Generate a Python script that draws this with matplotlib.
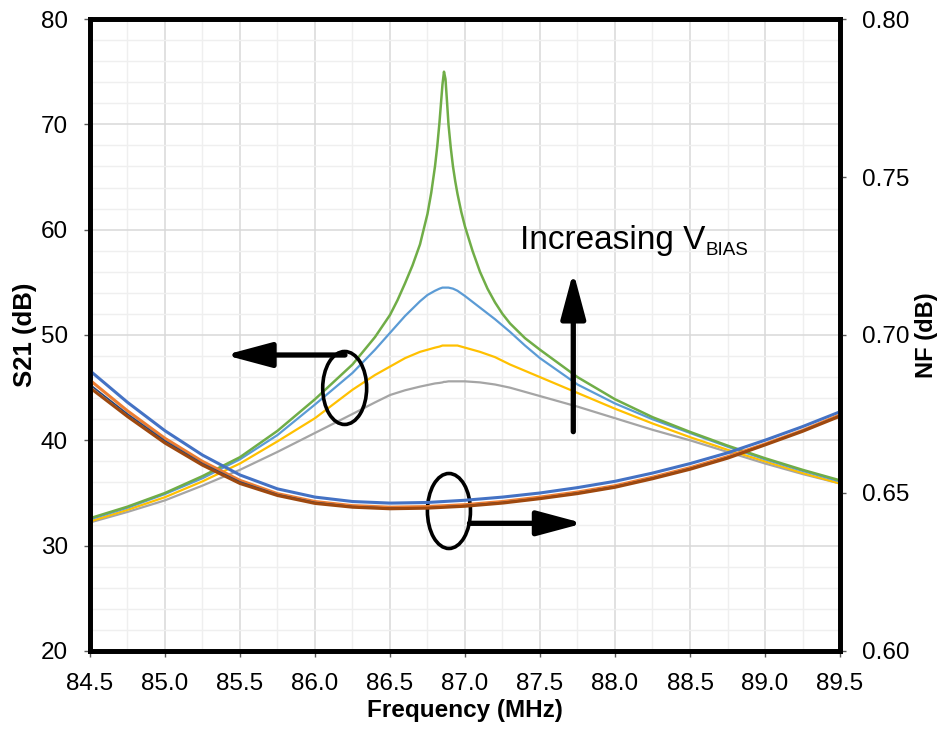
import numpy as np
import matplotlib
matplotlib.use('Agg')
import matplotlib.pyplot as plt
from matplotlib.patches import Ellipse
from matplotlib.ticker import MultipleLocator, FormatStrFormatter

plt.rcParams['font.family'] = ['Liberation Sans', 'DejaVu Sans']

# S21 data (left axis, dB)
freq = [84.5, 84.75, 85.0, 85.25, 85.5, 85.75, 86.0, 86.25, 86.4, 86.5, 86.6, 86.7,
        86.75, 86.8, 86.83, 86.85, 86.86, 86.87, 86.89, 86.92, 86.95, 87.0, 87.1,
        87.2, 87.3, 87.4, 87.5, 87.75, 88.0, 88.25, 88.5, 88.75, 89.0, 89.25, 89.5]
s21_blue = [32.5, 33.6, 34.9, 36.4, 38.2, 40.5, 43.4, 46.4, 48.6, 50.2, 51.8, 53.2,
            53.8, 54.2, 54.4, 54.5, 54.5, 54.5, 54.5, 54.4, 54.2, 53.7, 52.6,
            51.5, 50.3, 49.0, 47.8, 45.3, 43.5, 42.0, 40.7, 39.4, 38.2, 37.1, 36.1]
s21_yellow = [32.3, 33.4, 34.6, 36.1, 37.8, 39.9, 42.1, 44.8, 46.2, 47.0, 47.8, 48.4,
              48.6, 48.8, 48.9, 49.0, 49.0, 49.0, 49.0, 49.0, 49.0, 48.8, 48.4,
              47.9, 47.2, 46.6, 46.0, 44.5, 43.0, 41.6, 40.3, 39.1, 38.0, 36.9, 35.9]
s21_gray = [32.2, 33.2, 34.3, 35.7, 37.2, 38.9, 40.7, 42.5, 43.6, 44.3, 44.75, 45.1,
            45.25, 45.4, 45.45, 45.5, 45.55, 45.55, 45.6, 45.6, 45.6, 45.6, 45.5,
            45.3, 45.0, 44.6, 44.2, 43.2, 42.1, 41.0, 40.0, 38.9, 37.8, 36.8, 35.9]

# highest-bias curve has a sharp peak, so it is read at more points
freq_green = [84.5, 84.75, 85.0, 85.25, 85.5, 85.75, 86.0, 86.25, 86.4, 86.5, 86.55,
              86.6, 86.65, 86.7, 86.75, 86.775, 86.8, 86.815, 86.83, 86.84, 86.85,
              86.86, 86.87, 86.88, 86.89, 86.905, 86.92, 86.935, 86.95, 86.975, 87.0,
              87.05, 87.1, 87.15, 87.2, 87.25, 87.3, 87.4, 87.5, 87.75, 88.0, 88.25,
              88.5, 88.75, 89.0, 89.25, 89.5]
s21_green = [32.6, 33.7, 35.0, 36.6, 38.4, 40.9, 43.9, 47.2, 49.8, 51.9, 53.3,
             54.9, 56.6, 58.6, 61.5, 63.5, 66.0, 67.9, 70.2, 72.0, 73.8,
             75.0, 74.3, 72.2, 70.0, 67.8, 66.0, 64.6, 63.4, 61.7, 60.3,
             58.0, 56.0, 54.4, 53.1, 52.0, 51.1, 49.7, 48.6, 46.0, 43.9, 42.2,
             40.8, 39.5, 38.3, 37.2, 36.2]

# NF data (right axis, dB)
freq_nf = [84.5, 84.75, 85.0, 85.25, 85.5, 85.75, 86.0, 86.25, 86.5, 86.75, 87.0,
           87.25, 87.5, 87.75, 88.0, 88.25, 88.5, 88.75, 89.0, 89.25, 89.5]
nf_blue = [0.6887, 0.6787, 0.6697, 0.6620, 0.6557, 0.6513, 0.6487, 0.6473, 0.6468, 0.6470, 0.6477,
           0.6487, 0.6500, 0.6517, 0.6537, 0.6563, 0.6593, 0.6627, 0.6667, 0.6710, 0.6757]
nf_orange = [0.6857, 0.6760, 0.6673, 0.6600, 0.6540, 0.6498, 0.6473, 0.6460, 0.6455, 0.6457, 0.6463,
             0.6473, 0.6487, 0.6503, 0.6523, 0.6550, 0.6580, 0.6615, 0.6655, 0.6698, 0.6747]
nf_dark = [0.6843, 0.6750, 0.6665, 0.6593, 0.6535, 0.6495, 0.6470, 0.6457, 0.6452, 0.6453, 0.6460,
           0.6470, 0.6483, 0.6500, 0.6520, 0.6547, 0.6577, 0.6612, 0.6653, 0.6697, 0.6745]
nf_brown = [0.6833, 0.6742, 0.6658, 0.6588, 0.6530, 0.6492, 0.6467, 0.6455, 0.6450, 0.6452, 0.6458,
            0.6468, 0.6482, 0.6498, 0.6518, 0.6545, 0.6575, 0.6610, 0.6652, 0.6695, 0.6743]

fig = plt.figure(figsize=(9.45, 7.32), dpi=100)
ax = fig.add_axes([0.0952, 0.1107, 0.7937, 0.8633])
ax2 = ax.twinx()

ax.plot(freq, s21_gray, color='#A5A5A5', lw=1.6)
ax.plot(freq, s21_yellow, color='#FFC000', lw=1.6)
ax.plot(freq, s21_blue, color='#5B9BD5', lw=1.6)
ax.plot(freq_green, s21_green, color='#70AD47', lw=1.8)

ax2.plot(freq_nf, nf_blue, color='#4472C4', lw=2.2)
ax2.plot(freq_nf, nf_orange, color='#ED7D31', lw=2.2)
ax2.plot(freq_nf, nf_dark, color='#264478', lw=1.2)
ax2.plot(freq_nf, nf_brown, color='#9E480E', lw=2.2)

ax.set_xlim(84.5, 89.5)
ax.set_ylim(20, 80)
ax2.set_ylim(0.60, 0.80)

ax.xaxis.set_major_locator(MultipleLocator(0.5))
ax.xaxis.set_minor_locator(MultipleLocator(0.25))
ax.yaxis.set_major_locator(MultipleLocator(10))
ax.yaxis.set_minor_locator(MultipleLocator(2))
ax.xaxis.set_major_formatter(FormatStrFormatter('%.1f'))
ax2.yaxis.set_major_locator(MultipleLocator(0.05))
ax2.yaxis.set_major_formatter(FormatStrFormatter('%.2f'))

ax.grid(which='major', color='#D9D9D9', lw=1.1)
ax.grid(which='minor', color='#EFEFEF', lw=1.0)
ax.set_axisbelow(True)

for a in (ax, ax2):
    for sp in a.spines.values():
        sp.set_linewidth(3.4)
        sp.set_color('black')
ax.tick_params(which='major', direction='out', length=4, width=1, color='#595959',
               labelsize=17.5)
ax.tick_params(which='minor', length=0)
ax.tick_params(axis='y', pad=12)
ax.tick_params(axis='x', pad=12)
ax2.tick_params(which='major', direction='out', length=4, width=1, color='#595959',
                labelsize=17.5, pad=11.5)

ax.set_xlabel('Frequency (MHz)', fontsize=17.5, fontweight='bold')
ax.set_ylabel('S21 (dB)', fontsize=18.5, fontweight='bold')
ax2.set_ylabel('NF (dB)', fontsize=17, fontweight='bold')
ax.xaxis.set_label_coords(0.5, -0.076)
ax.yaxis.set_label_coords(-0.071, 0.5)
ax2.yaxis.set_label_coords(1.1, 0.5)

# annotations
ax.add_patch(Ellipse((86.198, 44.97), 0.293, 6.93, fill=False, ec='black', lw=2.6, zorder=5))
ax.add_patch(Ellipse((86.893, 33.29), 0.287, 7.12, fill=False, ec='black', lw=2.6, zorder=5))

head = '-|>,head_length=2.8,head_width=0.75'
ax.annotate('', xy=(85.40, 48.1), xytext=(86.2, 48.1),
            arrowprops=dict(arrowstyle=head, color='black', lw=3.8,
                            shrinkA=0, shrinkB=0, mutation_scale=10), zorder=6)
ax.annotate('', xy=(87.79, 32.12), xytext=(87.03, 32.12),
            arrowprops=dict(arrowstyle=head, color='black', lw=3.8,
                            shrinkA=0, shrinkB=0, mutation_scale=10), zorder=6)
ax.annotate('', xy=(87.722, 56.0), xytext=(87.722, 40.82),
            arrowprops=dict(arrowstyle=head, color='black', lw=3.8,
                            shrinkA=0, shrinkB=0, mutation_scale=10), zorder=6)

t1 = ax.text(87.367, 58.17, 'Increasing V', fontsize=24, va='baseline', ha='left')
ax.annotate('BIAS', xy=(1.0, 0.0), xycoords=t1, xytext=(0, 1),
            textcoords='offset points', fontsize=13.5, va='baseline', ha='left')

fig.savefig('out.png', dpi=100)
